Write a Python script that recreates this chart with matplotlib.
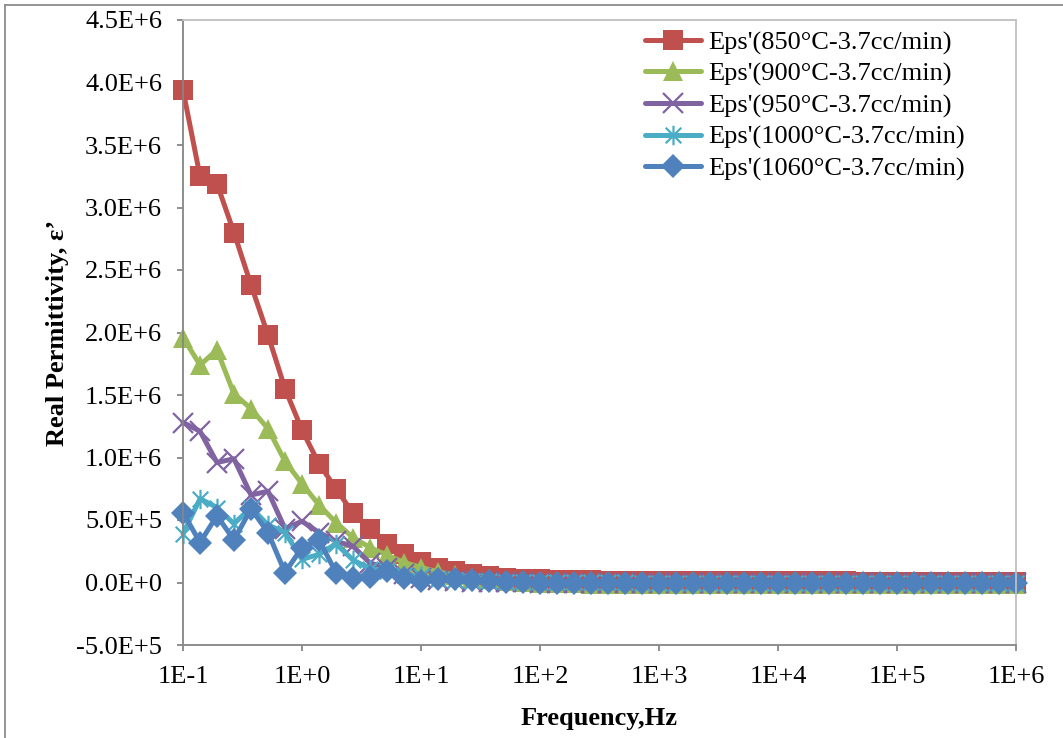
import matplotlib
matplotlib.use("Agg")
import matplotlib.pyplot as plt
from matplotlib.path import Path
from matplotlib.lines import Line2D

plt.rcParams['font.family'] = ['Liberation Serif', 'DejaVu Serif']

# Frequency grid (Hz), 7 points per decade from 0.1 Hz to 1 MHz
freq = [0.1, 0.139, 0.193, 0.268, 0.373, 0.518, 0.72,
        1.0, 1.39, 1.93, 2.68, 3.73, 5.18, 7.2,
        10, 13.9, 19.3, 26.8, 37.3, 51.8, 72,
        100, 139, 193, 268, 373, 518, 720,
        1000, 1390, 1930, 2680, 3730, 5180, 7200,
        10000, 13900, 19300, 26800, 37300, 51800, 72000,
        100000, 139000, 193000, 268000, 373000, 518000, 720000,
        1000000]

eps_850 = [3.94e6, 3.25e6, 3.19e6, 2.80e6, 2.38e6, 1.98e6, 1.55e6,
           1.22e6, 0.95e6, 0.75e6, 0.556e6, 0.425e6, 0.31e6, 0.23e6,
           0.165e6, 0.12e6, 0.09e6, 0.068e6, 0.05e6, 0.04e6, 0.032e6,
           0.027e6, 0.022e6, 0.02e6, 0.018e6, 0.016e6, 0.015e6, 0.014e6,
           0.013e6, 0.012e6, 0.012e6, 0.011e6, 0.011e6, 0.010e6, 0.010e6,
           0.010e6, 0.009e6, 0.009e6, 0.009e6, 0.009e6, 0.008e6, 0.008e6,
           0.008e6, 0.008e6, 0.008e6, 0.008e6, 0.008e6, 0.008e6, 0.008e6,
           0.008e6]

eps_900 = [1.96e6, 1.74e6, 1.86e6, 1.51e6, 1.39e6, 1.23e6, 0.97e6,
           0.79e6, 0.62e6, 0.48e6, 0.36e6, 0.28e6, 0.22e6, 0.16e6,
           0.12e6, 0.085e6, 0.06e6, 0.04e6, 0.025e6, 0.012e6, 0.004e6,
           -0.002e6, -0.005e6, -0.007e6, -0.008e6, -0.009e6, -0.01e6, -0.01e6,
           -0.01e6, -0.01e6, -0.01e6, -0.01e6, -0.01e6, -0.01e6, -0.01e6,
           -0.01e6, -0.01e6, -0.01e6, -0.01e6, -0.01e6, -0.01e6, -0.01e6,
           -0.01e6, -0.01e6, -0.01e6, -0.01e6, -0.01e6, -0.01e6, -0.01e6,
           -0.01e6]

eps_950 = [1.28e6, 1.21e6, 0.96e6, 0.99e6, 0.70e6, 0.73e6, 0.43e6,
           0.49e6, 0.40e6, 0.33e6, 0.29e6, 0.155e6, 0.12e6, 0.07e6,
           0.04e6, 0.02e6, 0.01e6, 0.006e6, 0.004e6, 0.002e6, 0.001e6,
           0.0, 0.0, 0.0, 0.0, 0.0, 0.0, 0.0,
           0.0, 0.0, 0.0, 0.0, 0.0, 0.0, 0.0,
           0.0, 0.0, 0.0, 0.0, 0.0, 0.0, 0.0,
           0.0, 0.0, 0.0, 0.0, 0.0, 0.0, 0.0,
           0.0]

eps_1000 = [0.39e6, 0.67e6, 0.60e6, 0.47e6, 0.60e6, 0.46e6, 0.40e6,
            0.185e6, 0.225e6, 0.31e6, 0.18e6, 0.11e6, 0.09e6, 0.06e6,
            0.05e6, 0.03e6, 0.02e6, 0.015e6, 0.01e6, 0.006e6, 0.004e6,
            0.003e6, 0.002e6, 0.002e6, 0.001e6, 0.001e6, 0.001e6, 0.0,
            0.0, 0.0, 0.0, 0.0, 0.0, 0.0, 0.0,
            0.0, 0.0, 0.0, 0.0, 0.0, 0.0, 0.0,
            0.0, 0.0, 0.0, 0.0, 0.0, 0.0, 0.0,
            0.0]

eps_1060 = [0.56e6, 0.32e6, 0.535e6, 0.34e6, 0.59e6, 0.40e6, 0.08e6,
            0.28e6, 0.34e6, 0.08e6, 0.04e6, 0.045e6, 0.09e6, 0.04e6,
            0.01e6, 0.03e6, 0.03e6, 0.02e6, 0.01e6, 0.005e6, 0.002e6,
            0.0, -0.002e6, -0.003e6, -0.003e6, -0.003e6, -0.003e6, -0.003e6,
            -0.003e6, -0.003e6, -0.003e6, -0.003e6, -0.003e6, -0.003e6, -0.003e6,
            -0.003e6, -0.003e6, -0.003e6, -0.003e6, -0.003e6, -0.003e6, -0.003e6,
            -0.003e6, -0.003e6, -0.003e6, -0.003e6, -0.003e6, -0.003e6, -0.003e6,
            -0.003e6]

labels = ["Eps'(850°C-3.7cc/min)", "Eps'(900°C-3.7cc/min)", "Eps'(950°C-3.7cc/min)",
          "Eps'(1000°C-3.7cc/min)", "Eps'(1060°C-3.7cc/min)"]
colors = ["#C0504D", "#9BBB59", "#8064A2", "#4BACC6", "#4F81BD"]

x_ticks = [1e-1, 1e0, 1e1, 1e2, 1e3, 1e4, 1e5, 1e6]
x_ticklabels = ["1E-1", "1E+0", "1E+1", "1E+2", "1E+3", "1E+4", "1E+5", "1E+6"]
y_ticks = [-5e5, 0, 5e5, 1e6, 1.5e6, 2e6, 2.5e6, 3e6, 3.5e6, 4e6, 4.5e6]
y_ticklabels = ["-5.0E+5", "0.0E+0", "5.0E+5", "1.0E+6", "1.5E+6", "2.0E+6",
                "2.5E+6", "3.0E+6", "3.5E+6", "4.0E+6", "4.5E+6"]

# Excel-style asterisk marker: X plus a vertical bar
ast = Path([(-1, -1), (1, 1), (-1, 1), (1, -1), (0, -1.25), (0, 1.25)],
           [Path.MOVETO, Path.LINETO, Path.MOVETO, Path.LINETO, Path.MOVETO, Path.LINETO])

fig = plt.figure(figsize=(10.63, 7.38), dpi=100)
ax = fig.add_axes([183 / 1063, 1 - 645 / 738, (1016 - 183) / 1063, (645 - 20) / 738])

series = [eps_850, eps_900, eps_950, eps_1000, eps_1060]
styles = [dict(marker='s', ms=14, mew=0),
          dict(marker='^', ms=15, mew=0),
          dict(marker='x', ms=14, mew=1.6),
          dict(marker=ast, ms=14, mew=1.6),
          dict(marker='D', ms=12, mew=0)]

for vals, lab, col, st in zip(series, labels, colors, styles):
    ax.plot(freq, vals, color=col, lw=3.6, label=lab, mfc=col, mec=col,
            solid_joinstyle='round', solid_capstyle='round', clip_on=False, **st)

ax.set_xscale('log')
ax.set_xlim(1e-1, 1e6)
ax.set_ylim(-5e5, 4.5e6)
ax.set_xticks(x_ticks)
ax.set_xticklabels(x_ticklabels)
ax.set_yticks(y_ticks)
ax.set_yticklabels(y_ticklabels)
ax.minorticks_off()

for s in ['left', 'bottom']:
    ax.spines[s].set_color('#868686')
    ax.spines[s].set_linewidth(1.3)
for s in ['top', 'right']:
    ax.spines[s].set_color('#BFBFBF')
    ax.spines[s].set_linewidth(1.3)

ax.tick_params(axis='both', direction='out', length=4, width=1.3, color='#868686',
               labelsize=19, labelcolor='black')
ax.tick_params(axis='y', pad=11)
ax.tick_params(axis='x', pad=11)

ax.set_xlabel("Frequency,Hz", fontsize=19, fontweight='bold', labelpad=14)
ax.set_ylabel("Real Permittivity, ε’", fontsize=19, fontweight='bold', labelpad=5)

leg = ax.legend(loc='upper left', bbox_to_anchor=(0.555, 0.983), frameon=False,
                fontsize=19, handlelength=2.1, handletextpad=0.3, labelspacing=0.29,
                borderpad=0, borderaxespad=0)

# outer chart border (top and left visible)
fig.add_artist(Line2D([5 / 1063, 5 / 1063], [0, 1 - 5 / 738], transform=fig.transFigure,
                      color='#8C8C8C', lw=1.3))
fig.add_artist(Line2D([5 / 1063, 1], [1 - 5 / 738, 1 - 5 / 738], transform=fig.transFigure,
                      color='#8C8C8C', lw=1.3))

fig.savefig("out.png", dpi=100)
